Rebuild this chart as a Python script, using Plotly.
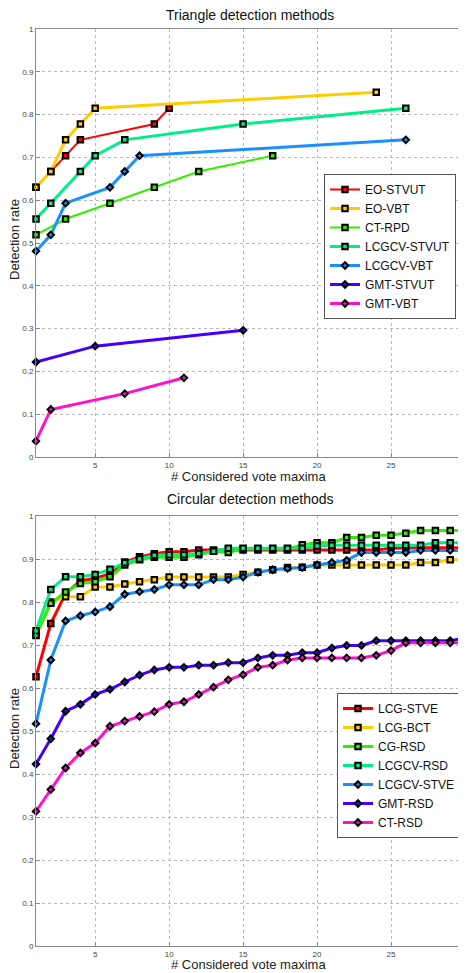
import plotly.graph_objects as go

# ---------------- Triangle detection methods ----------------
tri_names = ["EO-STVUT", "EO-VBT", "CT-RPD", "LCGCV-STVUT", "LCGCV-VBT", "GMT-STVUT", "GMT-VBT"]
tri_x = [
    [1, 2, 3, 4, 9, 10],
    [1, 2, 3, 4, 5, 24],
    [1, 3, 6, 9, 12, 17],
    [1, 2, 4, 5, 7, 15, 26],
    [1, 2, 3, 6, 7, 8, 26],
    [1, 5, 15],
    [1, 2, 7, 11],
]
tri_y = [
    [0.630, 0.667, 0.704, 0.741, 0.778, 0.815],
    [0.630, 0.667, 0.741, 0.778, 0.815, 0.852],
    [0.519, 0.556, 0.593, 0.630, 0.667, 0.704],
    [0.556, 0.593, 0.667, 0.704, 0.741, 0.778, 0.815],
    [0.481, 0.519, 0.593, 0.630, 0.667, 0.704, 0.741],
    [0.222, 0.259, 0.296],
    [0.037, 0.111, 0.148, 0.185],
]

# ---------------- Circular detection methods ----------------
circ_names = ["LCG-STVE", "LCG-BCT", "CG-RSD", "LCGCV-RSD", "LCGCV-STVE", "GMT-RSD", "CT-RSD"]
circ_x = list(range(1, 31))
lcg_stve = [0.626, 0.750, 0.820, 0.849, 0.855, 0.866, 0.893, 0.905, 0.912, 0.917,
            0.917, 0.921, 0.921, 0.921, 0.921, 0.921, 0.921, 0.921, 0.921, 0.921,
            0.921, 0.921, 0.921, 0.921, 0.925, 0.926, 0.926, 0.926, 0.926, 0.926]
lcg_bct = [0.722, 0.800, 0.812, 0.812, 0.835, 0.835, 0.842, 0.847, 0.852, 0.858,
           0.858, 0.858, 0.858, 0.858, 0.864, 0.869, 0.875, 0.880, 0.881, 0.886,
           0.886, 0.886, 0.886, 0.886, 0.886, 0.886, 0.892, 0.892, 0.898, 0.898]
cg_rsd = [0.723, 0.797, 0.823, 0.843, 0.847, 0.859, 0.886, 0.898, 0.904, 0.904,
          0.904, 0.910, 0.918, 0.915, 0.923, 0.923, 0.923, 0.923, 0.933, 0.938,
          0.938, 0.950, 0.950, 0.955, 0.955, 0.960, 0.966, 0.966, 0.966, 0.966]
lcgcv_rsd = [0.733, 0.829, 0.859, 0.859, 0.864, 0.876, 0.891, 0.900, 0.909, 0.910,
             0.910, 0.913, 0.918, 0.925, 0.925, 0.925, 0.925, 0.925, 0.925, 0.930,
             0.932, 0.932, 0.932, 0.932, 0.932, 0.932, 0.932, 0.938, 0.938, 0.938]
lcgcv_stve = [0.517, 0.665, 0.756, 0.768, 0.777, 0.789, 0.818, 0.824, 0.829, 0.840,
              0.840, 0.840, 0.852, 0.852, 0.858, 0.869, 0.875, 0.878, 0.880, 0.886,
              0.892, 0.897, 0.915, 0.915, 0.915, 0.915, 0.920, 0.920, 0.920, 0.920]
gmt_rsd = [0.423, 0.482, 0.546, 0.562, 0.585, 0.597, 0.614, 0.630, 0.642, 0.648,
           0.648, 0.653, 0.653, 0.659, 0.659, 0.670, 0.676, 0.676, 0.682, 0.682,
           0.693, 0.699, 0.699, 0.710, 0.710, 0.710, 0.710, 0.710, 0.710, 0.716]
ct_rsd = [0.313, 0.364, 0.414, 0.449, 0.472, 0.511, 0.523, 0.534, 0.545, 0.562,
          0.568, 0.585, 0.602, 0.619, 0.631, 0.648, 0.653, 0.665, 0.670, 0.670,
          0.670, 0.670, 0.670, 0.676, 0.687, 0.705, 0.705, 0.705, 0.705, 0.705]
circ_y = [lcg_stve, lcg_bct, cg_rsd, lcgcv_rsd, lcgcv_stve, gmt_rsd, ct_rsd]

x_ticks = [5, 10, 15, 20, 25, 30]
y_ticks = [0, 0.1, 0.2, 0.3, 0.4, 0.5, 0.6, 0.7, 0.8, 0.9, 1]
y_tick_text = ["0", "0.1", "0.2", "0.3", "0.4", "0.5", "0.6", "0.7", "0.8", "0.9", "1"]

# styles
colors = ["#ff0000", "#ffcc00", "#33ee00", "#00ee88", "#1a90ff", "#4400ff", "#ff10d0"]
symbols = ["square", "square", "square", "square", "diamond", "diamond", "diamond"]
tri_widths = [2, 3, 2, 3, 3, 3, 3]

FONT = "Liberation Sans, Arial, sans-serif"

# The page body has an 8px margin; the figure is sized so that it fills the window.
W, H = 458, 965
ML, MR, MT, MB = 28, 1, 21, 27
PH = H - MT - MB
PW = W - ML - MR
OFF = 8


def px_y(screen_y):
    return (H - MB - (screen_y - OFF)) / PH


def px_x(screen_x):
    return (screen_x - OFF - ML) / PW


def marker(i):
    sym = symbols[i]
    return dict(symbol=sym, size=5.5 if sym == "square" else 5, color=colors[i],
                line=dict(color="black", width=2))


fig = go.Figure()

for i, name in enumerate(tri_names):
    fig.add_trace(go.Scatter(
        x=tri_x[i], y=tri_y[i], name=name, mode="lines+markers",
        line=dict(color=colors[i], width=tri_widths[i]),
        marker=marker(i), cliponaxis=False,
        xaxis="x", yaxis="y", legend="legend",
    ))

for i, name in enumerate(circ_names):
    fig.add_trace(go.Scatter(
        x=circ_x, y=circ_y[i], name=name, mode="lines+markers",
        line=dict(color=colors[i], width=3),
        marker=marker(i), cliponaxis=False,
        xaxis="x2", yaxis="y2", legend="legend2",
    ))

axis_common = dict(
    showline=True, linecolor="#888888", linewidth=1, mirror=True,
    ticks="inside", ticklen=4, tickcolor="#888888", automargin=False,
    showgrid=True, gridcolor="#b8b8b8", griddash="dot", gridwidth=1,
    zeroline=False, tickfont=dict(size=8, color="#444444", family=FONT),
)

title_font = dict(size=13, color="#222222", family=FONT)
legend_common = dict(xanchor="left", yanchor="top", bordercolor="#555555", borderwidth=1,
                     bgcolor="white", font=dict(size=12, color="#111111", family=FONT),
                     tracegroupgap=0, itemwidth=30)

fig.update_layout(
    width=W, height=H,
    margin=dict(l=ML, r=MR, t=MT, b=MB, autoexpand=False),
    paper_bgcolor="white", plot_bgcolor="white",
    font=dict(family=FONT, color="#222222"),
    xaxis=dict(axis_common, domain=[0, 1], range=[1, 30], tickvals=x_ticks, anchor="y",
               ticklabeloverflow="allow"),
    yaxis=dict(axis_common, domain=[px_y(457), 1], range=[0, 1], tickvals=y_ticks,
               ticktext=y_tick_text, anchor="x"),
    xaxis2=dict(axis_common, domain=[0, 1], range=[1, 30], tickvals=x_ticks, anchor="y2",
                ticklabeloverflow="allow"),
    yaxis2=dict(axis_common, domain=[0, px_y(516)], range=[0, 1], tickvals=y_ticks,
                ticktext=y_tick_text, anchor="x2"),
    legend=dict(legend_common, x=px_x(324), y=px_y(174)),
    legend2=dict(legend_common, x=px_x(337), y=px_y(693)),
    annotations=[
        dict(text="Triangle detection methods", x=px_x(250), y=px_y(15),
             font=dict(size=14, color="#111111", family=FONT)),
        dict(text="Circular detection methods", x=px_x(250), y=px_y(499),
             font=dict(size=14, color="#111111", family=FONT)),
        dict(text="# Considered vote maxima", x=px_x(248), y=px_y(476), font=title_font),
        dict(text="# Considered vote maxima", x=px_x(248), y=px_y(964), font=title_font),
        dict(text="Detection rate", x=px_x(14), y=px_y(240), textangle=-90, font=title_font),
        dict(text="Detection rate", x=px_x(14), y=px_y(729), textangle=-90, font=title_font),
    ],
)
for a in fig.layout.annotations:
    a.xref = "paper"
    a.yref = "paper"
    a.showarrow = False
    a.xanchor = "center"
    a.yanchor = "middle"

fig.write_html("out.html")
